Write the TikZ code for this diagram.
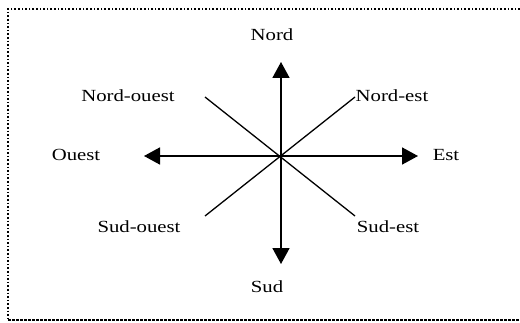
\documentclass[tikz,border=0pt]{standalone}
\usepackage{fontspec}
\setmainfont{Liberation Serif}
\usetikzlibrary{arrows.meta}

\begin{document}
\begin{tikzpicture}[x=1pt, y=1pt,
    lbl/.style={transform shape, xscale=1.22, inner sep=0pt, font=\fontsize{17}{19}\selectfont},
    axe/.style={line width=1.6pt, -{Triangle[length=16pt, width=17pt]}},
    diag/.style={line width=1.3pt}]
\useasboundingbox (0,0) rectangle (520,322);

% Frame
\draw[line width=1.6pt, dotted] (520,313) -- (8,313) -- (8,2);
\draw[line width=1.3pt, dash pattern=on 2.5pt off 1.5pt] (8,2) -- (520,2);

% Labels
\foreach \n/\x/\y in {Nord/272/287, Nord-ouest/128/226, Nord-est/392/226, Ouest/76/167,
                      Est/446/167, Sud-ouest/139/95, Sud-est/388/95, Sud/267/35}{
    \node[lbl] (\n) at (\x,\y) {\n};
}

% Ends of the lines
\coordinate (c) at (281,166);
\coordinate (n) at (281,260);
\coordinate (s) at (281,58);
\coordinate (o) at (144,166);
\coordinate (e) at (418,166);
\coordinate (no) at (205,225);
\coordinate (ne) at (355,225);
\coordinate (so) at (205,106);
\coordinate (se) at (355,106);

% Arrows
\foreach \t in {n, s, o, e}{
    \draw[axe] (c) -- (\t);
}

% Diagonals
\draw[diag] (no) -- (se);
\draw[diag] (ne) -- (so);

\end{tikzpicture}
\end{document}
